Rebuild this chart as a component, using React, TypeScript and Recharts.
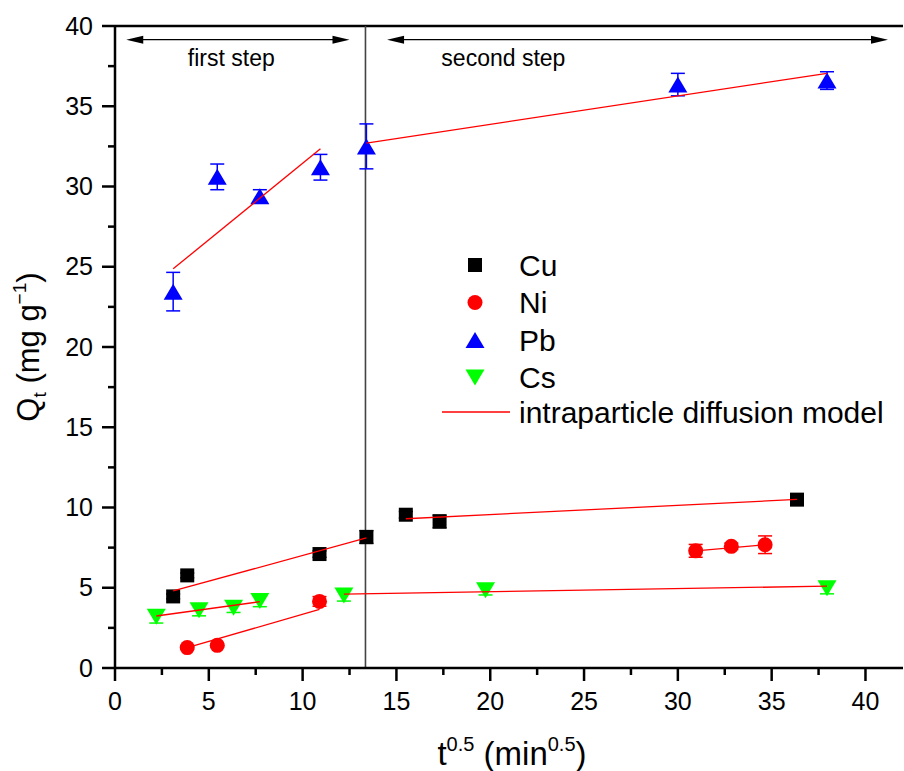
import React from "react";
import {
  ScatterChart,
  Scatter,
  XAxis,
  YAxis,
  ErrorBar,
  ReferenceLine,
  ReferenceDot,
  Legend,
} from "recharts";

const FONT = "'Liberation Sans', Arial, Helvetica, sans-serif";

// axis ticks (major every 5, minor in between)
const xTicks = [0, 2.5, 5, 7.5, 10, 12.5, 15, 17.5, 20, 22.5, 25, 27.5, 30, 32.5, 35, 37.5, 40];
const yTicks = [0, 2.5, 5, 7.5, 10, 12.5, 15, 17.5, 20, 22.5, 25, 27.5, 30, 32.5, 35, 37.5, 40];

// measured points, x = t^0.5
const cuX = [3.1, 3.85, 10.9, 13.4, 15.5, 17.3, 36.35];
const cuY = [4.46, 5.77, 7.1, 8.16, 9.55, 9.13, 10.49];
const cuErr = [0.15, 0.15, 0.2, 0.4, 0.2, 0.4, 0.2];

const niX = [3.85, 5.45, 10.9, 30.95, 32.85, 34.65];
const niY = [1.27, 1.41, 4.15, 7.3, 7.58, 7.68];
const niErr = [0.1, 0.1, 0.3, 0.4, 0.2, 0.55];

const pbX = [3.1, 5.45, 7.72, 10.95, 13.4, 30.0, 37.95];
const pbY = [23.45, 30.6, 29.4, 31.2, 32.5, 36.35, 36.6];
const pbErr = [1.2, 0.8, 0.4, 0.8, 1.4, 0.7, 0.55];

const csX = [2.2, 4.48, 6.32, 7.72, 12.2, 19.75, 37.95];
const csY = [3.2, 3.6, 3.76, 4.17, 4.52, 4.85, 4.97];
const csErr = [0.4, 0.35, 0.3, 0.35, 0.35, 0.3, 0.35];

// intraparticle diffusion model fits (two linear steps per metal)
const cuFit1X = [3.1, 13.4];
const cuFit1Y = [4.8, 8.1];
const cuFit2X = [15.5, 36.35];
const cuFit2Y = [9.3, 10.5];
const niFit1X = [3.85, 10.9];
const niFit1Y = [1.27, 3.65];
const niFit2X = [30.95, 34.65];
const niFit2Y = [7.3, 7.68];
const pbFit1X = [3.1, 10.95];
const pbFit1Y = [24.87, 32.35];
const pbFit2X = [13.4, 37.95];
const pbFit2Y = [32.7, 37.05];
const csFit1X = [2.2, 7.72];
const csFit1Y = [3.24, 4.13];
const csFit2X = [12.2, 37.95];
const csFit2Y = [4.6, 5.1];

const stepBoundary = 13.35;

const toPoints = (xs: number[], ys: number[], es?: number[]) =>
  xs.map((x, i) => ({ x, y: ys[i], err: es ? es[i] : 0 }));

const fits = [
  toPoints(cuFit1X, cuFit1Y),
  toPoints(cuFit2X, cuFit2Y),
  toPoints(niFit1X, niFit1Y),
  toPoints(niFit2X, niFit2Y),
  toPoints(pbFit1X, pbFit1Y),
  toPoints(pbFit2X, pbFit2Y),
  toPoints(csFit1X, csFit1Y),
  toPoints(csFit2X, csFit2Y),
];

const BLACK = "#000000";
const RED = "#ff0000";
const BLUE = "#0000ff";
const GREEN = "#00ff00";

const Square = (p: any) => <rect x={p.cx - 7} y={p.cy - 7} width={14} height={14} fill={p.color} />;
const Dot = (p: any) => <circle cx={p.cx} cy={p.cy} r={7.5} fill={p.color} />;
const UpTri = (p: any) => (
  <polygon
    points={`${p.cx},${p.cy - 8} ${p.cx + 9.5},${p.cy + 8} ${p.cx - 9.5},${p.cy + 8}`}
    fill={p.color}
  />
);
const DownTri = (p: any) => (
  <polygon
    points={`${p.cx},${p.cy + 8} ${p.cx + 9.5},${p.cy - 8} ${p.cx - 9.5},${p.cy - 8}`}
    fill={p.color}
  />
);

const series = [
  { name: "Cu", x: cuX, y: cuY, err: cuErr, shape: Square, color: BLACK },
  { name: "Ni", x: niX, y: niY, err: niErr, shape: Dot, color: RED },
  { name: "Pb", x: pbX, y: pbY, err: pbErr, shape: UpTri, color: BLUE },
  { name: "Cs", x: csX, y: csY, err: csErr, shape: DownTri, color: GREEN },
];

function XTick(props: any) {
  const { x, y, payload } = props;
  const v = payload.value;
  const major = v % 5 === 0;
  return (
    <g>
      <line x1={x} x2={x} y1={y} y2={y + (major ? 13 : 7)} stroke="#000" strokeWidth={2.5} />
      {major && (
        <text x={x} y={y + 42} textAnchor="middle" fontSize={25} fontFamily={FONT} fill="#000">
          {v}
        </text>
      )}
    </g>
  );
}

function YTick(props: any) {
  const { x, y, payload } = props;
  const v = payload.value;
  const major = v % 5 === 0;
  return (
    <g>
      <line x1={x - (major ? 13 : 7)} x2={x} y1={y} y2={y} stroke="#000" strokeWidth={2.5} />
      {major && (
        <text x={x - 22} y={y + 8.5} textAnchor="end" fontSize={25} fontFamily={FONT} fill="#000">
          {v}
        </text>
      )}
    </g>
  );
}

function XTitle(props: any) {
  const { x, y, width } = props.viewBox;
  return (
    <text x={x + width / 2 + 3} y={y + 97} textAnchor="middle" fontSize={33} fontFamily={FONT} fill="#000">
      t<tspan dy={-14} fontSize={20}>0.5</tspan>
      <tspan dy={14}> (min</tspan>
      <tspan dy={-14} fontSize={20}>0.5</tspan>
      <tspan dy={14}>)</tspan>
    </text>
  );
}

function YTitle(props: any) {
  const { y, height } = props.viewBox;
  const cx = 39;
  const cy = y + height / 2;
  return (
    <text
      x={cx}
      y={cy}
      transform={`rotate(-90 ${cx} ${cy})`}
      textAnchor="middle"
      fontSize={31}
      fontFamily={FONT}
      fill="#000"
    >
      Q<tspan dy={7} fontSize={19}>t</tspan>
      <tspan dy={-7}> (mg g</tspan>
      <tspan dy={-13} fontSize={19}>−1</tspan>
      <tspan dy={13}>)</tspan>
    </text>
  );
}

function Arrow(p: any) {
  const { x1, y1, x2 } = p;
  const len = 17;
  const h = 4;
  return (
    <g>
      <line x1={x1 + len - 2} x2={x2 - len + 2} y1={y1} y2={y1} stroke="#000" strokeWidth={1.2} />
      <polygon points={`${x1},${y1} ${x1 + len},${y1 - h} ${x1 + len},${y1 + h}`} fill="#000" />
      <polygon points={`${x2},${y1} ${x2 - len},${y1 - h} ${x2 - len},${y1 + h}`} fill="#000" />
    </g>
  );
}

const StepLabel = (text: string) => (p: any) =>
  (
    <text x={p.cx} y={p.cy} textAnchor="middle" fontSize={23} fontFamily={FONT} fill="#000">
      {text}
    </text>
  );

const legendItems = [
  ...series.map((s) => ({ name: s.name, shape: s.shape, color: s.color })),
  { name: "intraparticle diffusion model", shape: null as any, color: RED },
];

function LegendBox() {
  return (
    <svg width={470} height={190}>
      {legendItems.map((it, i) => {
        const cy = 25 + i * 37.5 - (i === 4 ? 3 : 0);
        const S = it.shape;
        return (
          <g key={it.name}>
            {S ? (
              <S cx={45} cy={cy} color={it.color} />
            ) : (
              <line x1={12} x2={80} y1={cy} y2={cy} stroke={RED} strokeWidth={1.3} />
            )}
            <text x={89} y={cy + 10.5} fontSize={30} fontFamily={FONT} fill="#000">
              {it.name}
            </text>
          </g>
        );
      })}
    </svg>
  );
}

export default function App() {
  return (
    <div style={{ position: "absolute", left: 0, top: 0, background: "#fff" }}>
      <ScatterChart width={904} height={771} margin={{ top: 26, right: 1, bottom: 0, left: 0 }}>
        <XAxis
          type="number"
          dataKey="x"
          domain={[0, 42]}
          ticks={xTicks}
          interval={0}
          tick={<XTick />}
          tickLine={false}
          tickSize={0}
          tickMargin={0}
          axisLine={{ stroke: "#000", strokeWidth: 2.5 }}
          height={103}
          allowDataOverflow
          label={{ content: (p: any) => <XTitle {...p} /> }}
        />
        <YAxis
          type="number"
          dataKey="y"
          domain={[0, 40]}
          ticks={yTicks}
          interval={0}
          tick={<YTick />}
          tickLine={false}
          tickSize={0}
          tickMargin={0}
          axisLine={{ stroke: "#000", strokeWidth: 2.5 }}
          width={115}
          allowDataOverflow
          label={{ content: (p: any) => <YTitle {...p} /> }}
        />
        <ReferenceLine y={40} stroke="#000" strokeWidth={2.5} />
        <ReferenceLine x={stepBoundary} stroke="#444" strokeWidth={1.6} />
        <ReferenceLine
          segment={[
            { x: 0.6, y: 39.15 },
            { x: 12.5, y: 39.15 },
          ]}
          shape={(p: any) => <Arrow {...p} />}
        />
        <ReferenceLine
          segment={[
            { x: 14.5, y: 39.15 },
            { x: 41.2, y: 39.15 },
          ]}
          shape={(p: any) => <Arrow {...p} />}
        />
        <ReferenceDot x={6.2} y={37.5} r={0} shape={StepLabel("first step")} />
        <ReferenceDot x={20.7} y={37.5} r={0} shape={StepLabel("second step")} />

        {/* error bars first so the markers sit on top of them */}
        {series.map((s) => (
          <Scatter
            key={`${s.name}-err`}
            name={`${s.name}-err`}
            data={toPoints(s.x, s.y, s.err)}
            isAnimationActive={false}
            shape={() => <g />}
            legendType="none"
          >
            <ErrorBar dataKey="err" direction="y" width={7} stroke={s.color} strokeWidth={1.5} />
          </Scatter>
        ))}
        {series.map((s) => {
          const S = s.shape;
          return (
            <Scatter
              key={s.name}
              name={s.name}
              data={toPoints(s.x, s.y, s.err)}
              isAnimationActive={false}
              shape={(p: any) => <S {...p} color={s.color} />}
            />
          );
        })}

        {fits.map((d, i) => (
          <Scatter
            key={i}
            name={`fit${i}`}
            data={d}
            isAnimationActive={false}
            line={{ stroke: RED, strokeWidth: 1.3 }}
            shape={() => <g />}
            legendType="none"
          />
        ))}

        <Legend
          layout="horizontal"
          verticalAlign="middle"
          content={() => <LegendBox />}
          wrapperStyle={{ position: "absolute", left: 430, top: 240, width: 470, height: 190 }}
        />
      </ScatterChart>
    </div>
  );
}
